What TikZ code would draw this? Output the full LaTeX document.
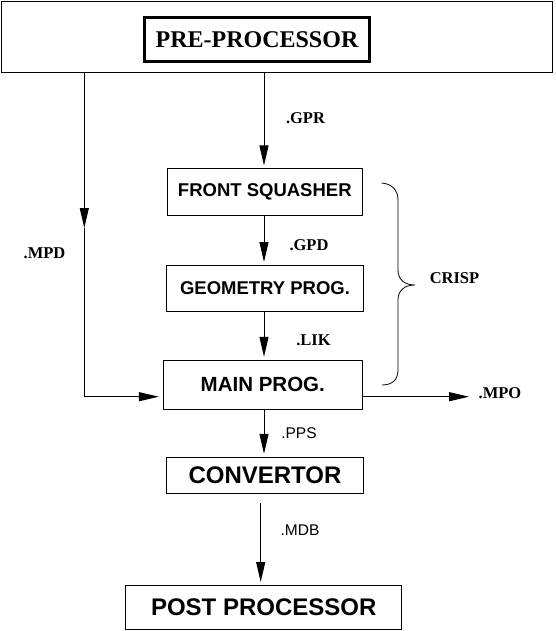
\documentclass[tikz,border=0pt]{standalone}
\usepackage{fontspec}
\setmainfont{Liberation Serif}
\setsansfont{Liberation Sans}
\usetikzlibrary{arrows.meta}

\begin{document}
\begin{tikzpicture}[x=1pt, y=-1pt,
    box/.style={draw, line width=1pt, inner sep=0pt, font=\sffamily\bfseries\fontsize{18.5}{18.5}\selectfont},
    bigbox/.style={box, font=\sffamily\bfseries\fontsize{24}{24}\selectfont},
    ext/.style={font=\bfseries\fontsize{16.5}{16.5}\selectfont},
    sext/.style={font=\sffamily\fontsize{15.5}{15.5}\selectfont},
    flow/.style={line width=1pt, -{Triangle[length=20pt, width=9pt]}, shorten >=3pt}]
    \useasboundingbox (0,0) rectangle (555,631);
    % pre-processor frame
    \node[draw, line width=1pt, minimum width=551, minimum height=71] (frame) at (276.5,37) {};
    \node[draw, line width=3pt, inner sep=0pt, minimum width=225, minimum height=44,
          font=\bfseries\fontsize{24}{24}\selectfont] (pre) at (257,39.5) {PRE-PROCESSOR};
    % program boxes
    \node[box, minimum width=195, minimum height=46] (front) at (264.8,192) {FRONT SQUASHER};
    \node[box, minimum width=197, minimum height=46] (geom) at (265,288.5) {GEOMETRY PROG.};
    \node[box, minimum width=199, minimum height=49, font=\sffamily\bfseries\fontsize{20.5}{20.5}\selectfont]
        (mainp) at (262.8,384.8) {MAIN PROG.};
    \node[bigbox, minimum width=197, minimum height=36] (conv) at (265,475.3) {CONVERTOR\hspace{12pt}};
    \node[bigbox, minimum width=276, minimum height=44] (post) at (263.7,607.5) {POST PROCESSOR};
    % guide coordinates
    \coordinate (ax) at (264,0);
    \coordinate (bx) at (260.7,0);
    \coordinate (mx) at (84.3,0);
    \coordinate (my) at (0,396.7);
    \coordinate (mpdtip) at (84.3,228);
    \coordinate (mpoend) at (469,396.7);
    \coordinate (mdbtop) at (260.7,503);
    % data flow
    \draw[flow] (frame.south -| ax) -- (front.north -| ax);
    \draw[flow] (front.south -| ax) -- (geom.north -| ax);
    \draw[flow] (geom.south -| ax) -- (mainp.north -| ax);
    \draw[flow] (mainp.south -| ax) -- (conv.north -| ax);
    \draw[flow] (mdbtop) -- (post.north -| bx);
    \draw[flow, shorten >=0pt] (frame.south -| mx) -- (mpdtip);
    \draw[flow, shorten >=4pt] (mpdtip) -- (mx |- my) -- (mainp.west |- my);
    \draw[flow, shorten >=0pt] (mainp.east |- my) -- (mpoend);
    % file extensions
    \node[ext] (gpr) at (305.5,118) {.GPR};
    \node[ext] (gpd) at (309,245) {.GPD};
    \node[ext] (lik) at (313.5,340) {.LIK};
    \node[ext] (mpd) at (44.5,253) {.MPD};
    \node[ext] (mpo) at (500,393) {.MPO};
    \node[sext] (pps) at (299,433) {.PPS};
    \node[sext] (mdb) at (300,530) {.MDB};
    % crisp brace
    \draw[line width=0.8pt] (381.7,183) .. controls (392,184) and (398,190) .. (398,200) -- (398,270)
        .. controls (398,280) and (405,285) .. (415,285) .. controls (405,285) and (398,290) .. (398,300)
        -- (398,370) .. controls (398,380) and (392,385) .. (382,385);
    \node[ext] (crisp) at (454.5,278) {CRISP};
\end{tikzpicture}
\end{document}
